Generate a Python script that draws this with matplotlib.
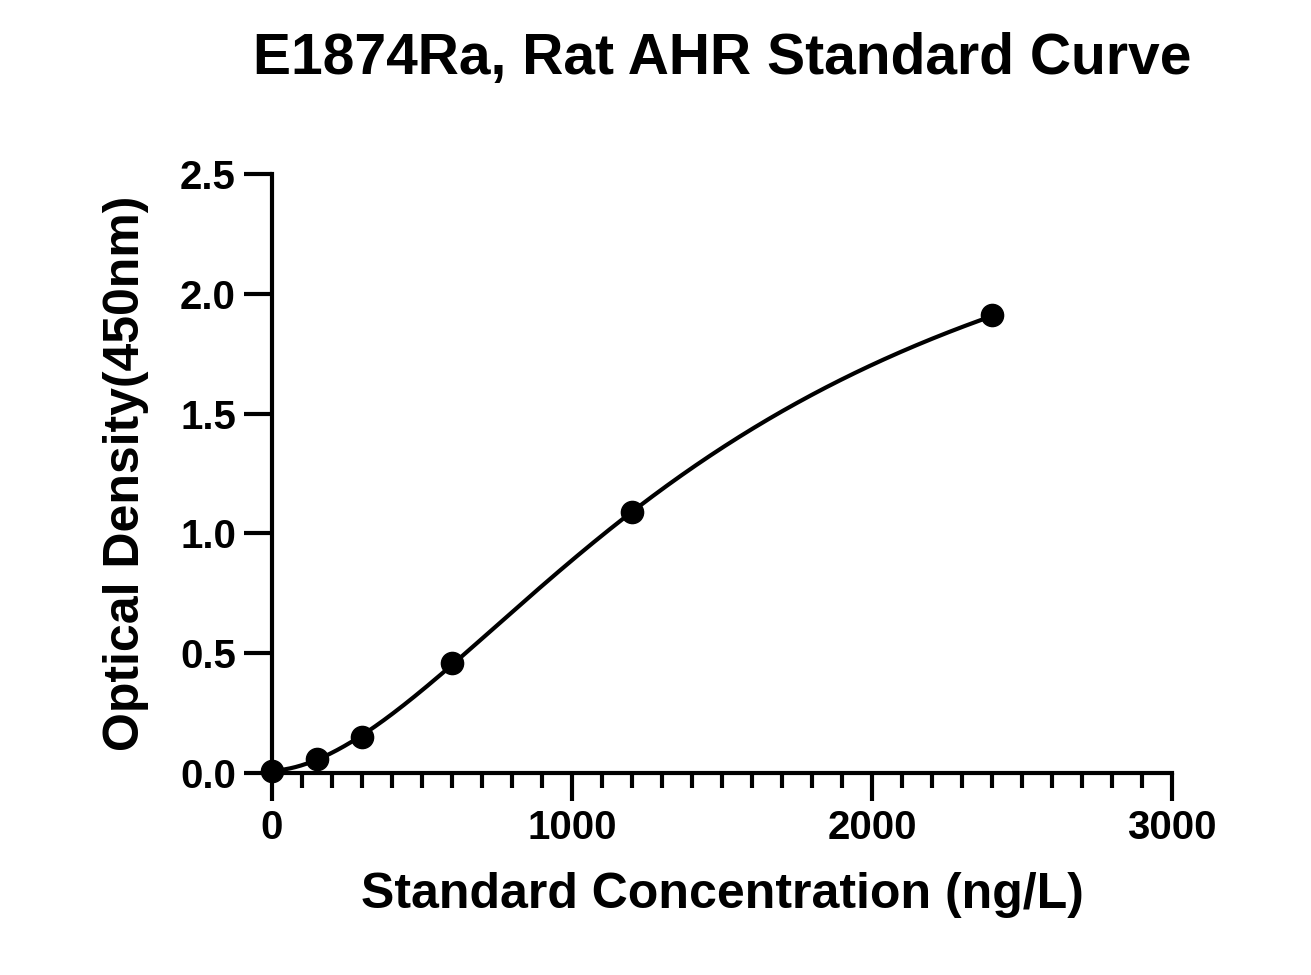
import numpy as np
import matplotlib.pyplot as plt
from matplotlib.ticker import MultipleLocator

conc = np.array([0, 150, 300, 600, 1200, 2400])
od = np.array([0.01, 0.06, 0.15, 0.46, 1.09, 1.91])

# 4PL fit by coarse grid search (no scipy needed)
def fourpl(x, a, b, c, d):
    return d + (a - d) / (1 + (x / c) ** b)

best = None
for b in np.linspace(1.2, 3.0, 37):
    for c in np.linspace(800, 3000, 111):
        for d in np.linspace(2.0, 4.0, 41):
            err = np.sum((fourpl(conc, 0.01, b, c, d) - od) ** 2)
            if best is None or err < best[0]:
                best = (err, b, c, d)
_, b, c, d = best
xs = np.linspace(0, 2400, 400)
ys = fourpl(xs, 0.01, b, c, d)

plt.rcParams['font.family'] = ['Liberation Sans', 'DejaVu Sans']
plt.rcParams['font.weight'] = 'bold'

fig = plt.figure(figsize=(13.11, 9.75), dpi=100)
ax = fig.add_axes([0.2075, 0.2072, 0.6865, 0.6143])
ax.plot(xs, ys, color='black', lw=3)
ax.plot(conc, od, 'o', color='black', ms=16, clip_on=False, zorder=3)

ax.set_xlim(0, 3000)
ax.set_ylim(0, 2.5)
ax.set_xticks([0, 1000, 2000, 3000])
ax.xaxis.set_minor_locator(MultipleLocator(100))
ax.set_yticks([0, 0.5, 1.0, 1.5, 2.0, 2.5])
ax.set_yticklabels(['0.0', '0.5', '1.0', '1.5', '2.0', '2.5'])
for s in ['top', 'right']:
    ax.spines[s].set_visible(False)
for s in ['left', 'bottom']:
    ax.spines[s].set_linewidth(3)
ax.tick_params(which='major', length=20, width=3, labelsize=29, pad=6)
ax.tick_params(which='minor', length=11, width=3)
for lab in ax.get_xticklabels() + ax.get_yticklabels():
    lab.set_fontweight('bold')

ax.set_xlabel('Standard Concentration (ng/L)', fontsize=36, fontweight='bold', labelpad=18)
ax.set_ylabel('Optical Density(450nm)', fontsize=36, fontweight='bold', labelpad=22)
ax.set_title('E1874Ra, Rat AHR Standard Curve', fontsize=41, fontweight='bold', pad=72, x=0.5)

fig.savefig('out.png', dpi=100)
